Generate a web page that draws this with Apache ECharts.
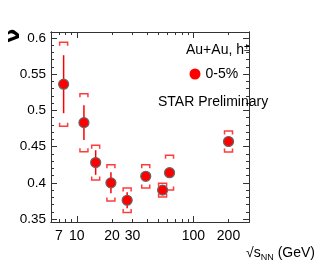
<!DOCTYPE html>
<html><head><meta charset="utf-8">
<script src="https://cdn.jsdelivr.net/npm/echarts@6/dist/echarts.min.js"></script>
<style>html,body{margin:0;padding:0;background:#fff}#c{width:315px;height:267px}</style>
</head><body><div id="c"></div>
<script>
// ---- data ----
const energies   = [7.7, 11.5, 14.5, 19.6, 27, 39, 54.4, 62.4, 200];
const nuValues   = [0.536, 0.483, 0.428, 0.400, 0.376, 0.409, 0.390, 0.414, 0.457];
const statErrors = [0.040, 0.024, 0.017, 0.0145, 0.011, 0.005, 0.004, 0.006, 0.004];
const sysErrors  = [0.058, 0.040, 0.024, 0.025, 0.017, 0.016, 0.0095, 0.024, 0.0145];
const seriesName = '0-5%';
const xTickLabels = [7, 10, 20, 30, 100, 200];
const xMajorTicks = [10, 100];
const xMinorTicks = [6, 7, 8, 9, 20, 30, 40, 50, 60, 70, 80, 90, 200, 300];
const yTickLabels = [0.35, 0.4, 0.45, 0.5, 0.55, 0.6];
const yMinorTicks = [0.35,0.36,0.37,0.38,0.39,0.40,0.41,0.42,0.43,0.44,0.45,0.46,0.47,0.48,0.49,0.50,0.51,0.52,0.53,0.54,0.55,0.56,0.57,0.58,0.59,0.60];

const FONT = '"Liberation Sans", Arial, Helvetica, sans-serif';
const AX = '#333';
const X_MIN = 6, X_MAX = 300, Y_MIN = 0.346, Y_MAX = 0.608;

const chart = echarts.init(document.getElementById('c'));

function xAxisDef(pos, major, withLabels) {
  return {
    type: 'log', logBase: 10, min: X_MIN, max: X_MAX, position: pos, gridIndex: 0,
    axisLine: {show: true, lineStyle: {color: AX, width: 1}},
    axisTick: {show: true, inside: true, length: major ? 6 : 3, customValues: major ? xMajorTicks : xMinorTicks, lineStyle: {color: AX}},
    axisLabel: withLabels ? {show: true, customValues: xTickLabels, margin: 7, color: '#000', fontSize: 14, fontFamily: FONT} : {show: false},
    splitLine: {show: false}, minorTick: {show: false}
  };
}
function yAxisDef(pos, major, withLabels) {
  return {
    type: 'value', min: Y_MIN, max: Y_MAX, position: pos, gridIndex: 0,
    axisLine: {show: true, lineStyle: {color: AX, width: 1}},
    axisTick: {show: true, inside: true, length: major ? 6 : 3, customValues: major ? yTickLabels : yMinorTicks, lineStyle: {color: AX}},
    axisLabel: withLabels ? {show: true, customValues: yTickLabels, margin: 5, color: '#000', fontSize: 13.5, fontFamily: FONT} : {show: false},
    splitLine: {show: false}
  };
}

const xAxes = [xAxisDef('bottom', true, true), xAxisDef('bottom', false, false), xAxisDef('top', true, false), xAxisDef('top', false, false)];
xAxes[0].name = '√{s|s}{sub|NN} (GeV)';
xAxes[0].nameLocation = 'end';
xAxes[0].nameGap = 2;
xAxes[0].nameTextStyle = {
  align: 'right', verticalAlign: 'top', padding: [22, 0, 0, 0], color: '#000', fontSize: 14, fontFamily: FONT, lineHeight: 18,
  rich: {s: {fontSize: 14, fontFamily: FONT, color: '#000', lineHeight: 18}, sub: {fontSize: 9, fontFamily: FONT, color: '#000', verticalAlign: 'bottom', lineHeight: 9}}
};
const yAxes = [yAxisDef('left', true, true), yAxisDef('left', false, false), yAxisDef('right', true, false), yAxisDef('right', false, false)];

const sysData = energies.map((e, i) => [e, nuValues[i], sysErrors[i]]);
const statData = energies.map((e, i) => [e, nuValues[i], statErrors[i]]);
const pointData = energies.map((e, i) => [e, nuValues[i]]);

chart.setOption({
  animation: false,
  backgroundColor: '#fff',
  grid: {left: 51, top: 32, width: 227, height: 190, containLabel: false},
  xAxis: xAxes,
  yAxis: yAxes,
  title: [
    {text: 'Au+Au, h{sup|±}', left: 186, top: 43, padding: 0,
     textStyle: {fontSize: 14, fontWeight: 'normal', fontFamily: FONT, color: '#000',
       rich: {sup: {fontSize: 10, fontFamily: FONT, color: '#000', verticalAlign: 'top', lineHeight: 10}}}},
    {text: 'STAR Preliminary', left: 158, top: 95, padding: 0,
     textStyle: {fontSize: 14, fontWeight: 'normal', fontFamily: FONT, color: '#000'}}
  ],
  legend: {
    data: [seriesName], left: 189.5, top: 67, padding: 0, itemWidth: 11, itemHeight: 11, icon: 'circle', itemGap: 5,
    itemStyle: {borderWidth: 0},
    textStyle: {fontSize: 14, fontFamily: FONT, color: '#000'}
  },
  graphic: [
    {type: 'text', left: 4, top: 29, rotation: Math.PI / 2, style: {text: 'ν', fontSize: 20, fontWeight: 'bold', fontFamily: '"DejaVu Sans", sans-serif', fill: '#000'}}
  ],
  series: [
    {
      type: 'custom', name: 'sys', xAxisIndex: 0, yAxisIndex: 0, data: sysData, encode: {x: 0, y: 1}, z: 2,
      renderItem: function (params, api) {
        const x = api.value(0), v = api.value(1), e = api.value(2);
        const t = api.coord([x, v + e]), b = api.coord([x, v - e]);
        const hw = 4, tl = 3.5;
        const st = {stroke: '#ff3c3c', lineWidth: 1.5, fill: null};
        return {type: 'group', children: [
          {type: 'polyline', shape: {points: [[t[0] - hw, t[1] + tl], [t[0] - hw, t[1]], [t[0] + hw, t[1]], [t[0] + hw, t[1] + tl]]}, style: st},
          {type: 'polyline', shape: {points: [[b[0] - hw, b[1] - tl], [b[0] - hw, b[1]], [b[0] + hw, b[1]], [b[0] + hw, b[1] - tl]]}, style: st}
        ]};
      }
    },
    {
      type: 'custom', name: 'stat', xAxisIndex: 0, yAxisIndex: 0, data: statData, encode: {x: 0, y: 1}, z: 3,
      renderItem: function (params, api) {
        const x = api.value(0), v = api.value(1), e = api.value(2);
        const t = api.coord([x, v + e]), b = api.coord([x, v - e]);
        return {type: 'line', shape: {x1: t[0], y1: t[1], x2: b[0], y2: b[1]}, style: {stroke: '#ff0000', lineWidth: 1.5}};
      }
    },
    {
      type: 'scatter', name: seriesName, xAxisIndex: 0, yAxisIndex: 0, data: pointData, z: 4,
      symbol: 'circle', symbolSize: 10,
      itemStyle: {color: '#ff0000', borderColor: '#666', borderWidth: 1.2, opacity: 1}
    }
  ]
});
</script></body></html>
